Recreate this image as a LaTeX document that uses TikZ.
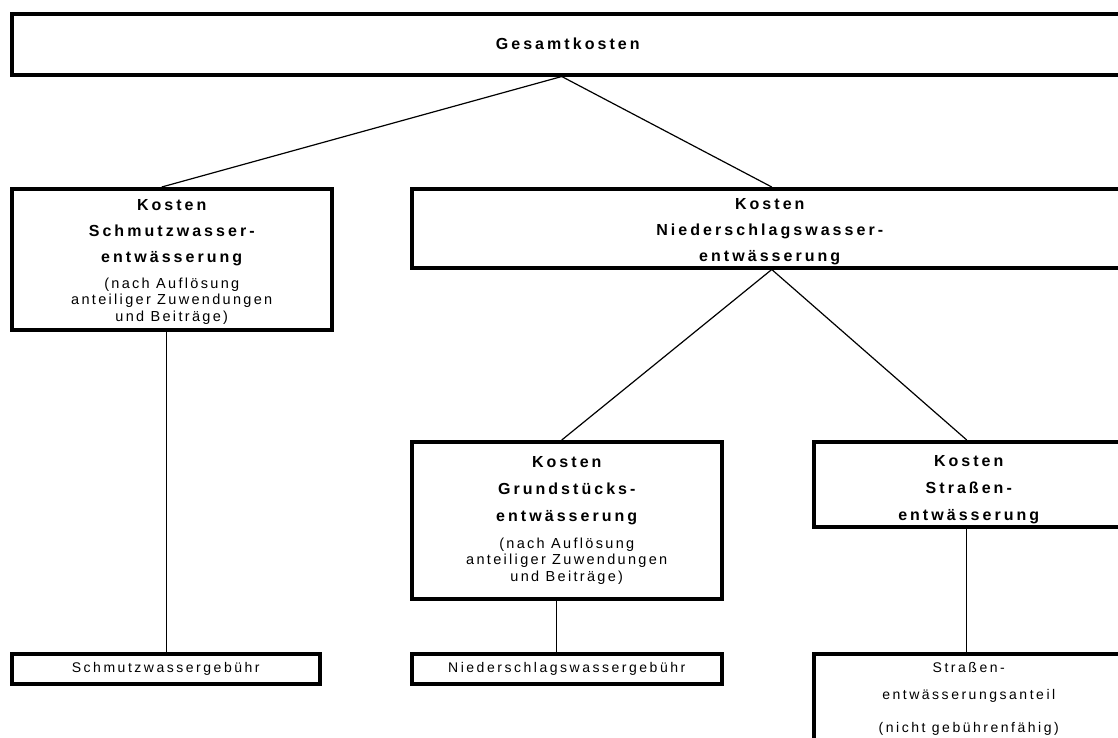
\documentclass[tikz,border=0pt]{standalone}
\usepackage{fontspec}
\setmainfont{Liberation Sans}
\newfontfamily\headfont[LetterSpace=19]{Liberation Sans}
\newfontfamily\notefont[LetterSpace=16]{Liberation Sans}
\newfontfamily\gebfont[LetterSpace=18]{Liberation Sans}
\usetikzlibrary{positioning}
\def\pagewidth{1118}
\def\pageheight{737}
\newcommand{\kopf}[1]{{\headfont\bfseries\fontsize{16}{16.5}\selectfont #1}}
\tikzset{
  kostbox/.style={draw, line width=3.5pt, align=center, inner sep=0pt, anchor=north west,
    font=\notefont\fontsize{14.5}{16.5}\selectfont},
  gebbox/.style={kostbox, font=\gebfont\fontsize{14}{16.5}\selectfont},
  link/.style={line width=1.2pt}
}

\begin{document}
\begin{tikzpicture}[x=1pt, y=-1pt]
  \useasboundingbox (0,0) rectangle (\pagewidth,\pageheight);
  \clip (0,0) rectangle (\pagewidth,\pageheight);

  % total costs
  \node[kostbox, minimum width=1112, minimum height=61] (gesamt) at (10,12) {\kopf{Gesamtkosten}};

  % second level
  \node[kostbox, minimum width=320, minimum height=141] (schmutz) at (10,187)
    {{}\\[-1pt]\kopf{Kosten}\\[9.5pt]\kopf{Schmutzwasser-}\\[9.5pt]\kopf{entwässerung}\\[9.5pt]
     (nach Auflösung\\anteiliger Zuwendungen\\und Beiträge)};
  \node[kostbox, minimum width=716, minimum height=79] (nieder) at (410,187)
    {{}\\[2pt]\kopf{Kosten}\\[9.5pt]\kopf{Niederschlagswasser-}\\[9.5pt]\kopf{entwässerung}};

  % third level
  \node[kostbox, minimum width=310, minimum height=157] (grund) at (410,440)
    {\kopf{Kosten}\\[10.5pt]\kopf{Grundstücks-}\\[10.5pt]\kopf{entwässerung}\\[10.5pt]
     (nach Auflösung\\anteiliger Zuwendungen\\und Beiträge)};
  \node[kostbox, minimum width=310, minimum height=85] (strasse) at (812,440)
    {{}\\[6pt]\kopf{Kosten}\\[10.5pt]\kopf{Straßen-}\\[10.5pt]\kopf{entwässerung}};

  % fees
  \node[gebbox, minimum width=308, minimum height=30] (schmutzgeb) at (10,652) {Schmutzwassergebühr};
  \node[gebbox, minimum width=310, minimum height=30] (niedergeb) at (410,652) {Niederschlagswassergebühr};
  \node[gebbox, minimum width=310, minimum height=90] (strassegeb) at (812,652)
    {Straßen-\\[10.5pt]entwässerungsanteil\\[16.5pt](nicht gebührenfähig)};

  % connectors
  \draw[link] ([xshift=-6]gesamt.south) -- ([xshift=-10]schmutz.north);
  \draw[link] ([xshift=-6]gesamt.south) -- ([xshift=2]nieder.north);
  \draw[link] ([xshift=2]nieder.south) -- ([xshift=-5]grund.north);
  \draw[link] ([xshift=2]nieder.south) -- ([xshift=-2]strasse.north);
  \draw[link] ([xshift=-5]schmutz.south) -- ([xshift=1]schmutzgeb.north);
  \draw[link] ([xshift=-10]grund.south) -- ([xshift=-10]niedergeb.north);
  \draw[link] ([xshift=-2]strasse.south) -- ([xshift=-2]strassegeb.north);
\end{tikzpicture}
\end{document}
